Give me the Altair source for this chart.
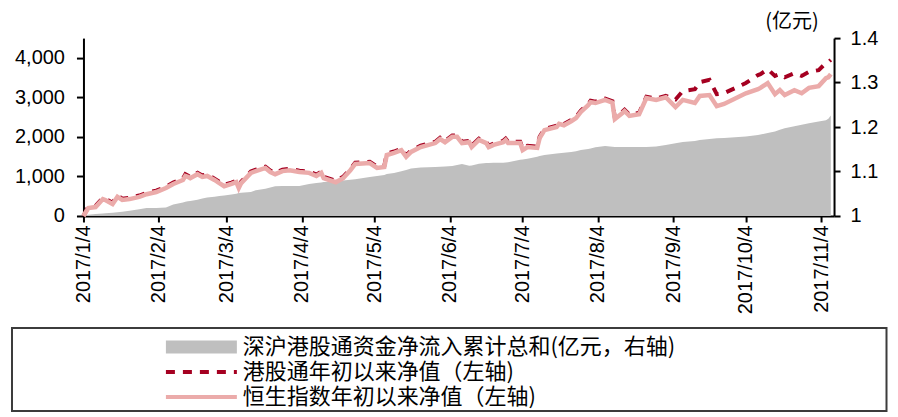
import altair as alt
import pandas as pd

# ---------------- data ----------------
dates = [
    "2017/01/04", "2017/01/06", "2017/01/09", "2017/01/12", "2017/01/13", "2017/01/16",
    "2017/01/18", "2017/01/20", "2017/01/23", "2017/01/27", "2017/01/30", "2017/02/03",
    "2017/02/07", "2017/02/10", "2017/02/14", "2017/02/15", "2017/02/16", "2017/02/17",
    "2017/02/20", "2017/02/22", "2017/02/24", "2017/02/27", "2017/03/01", "2017/03/03",
    "2017/03/06", "2017/03/08", "2017/03/09", "2017/03/10", "2017/03/14", "2017/03/16",
    "2017/03/20", "2017/03/22", "2017/03/24", "2017/03/27", "2017/03/30", "2017/04/03",
    "2017/04/07", "2017/04/10", "2017/04/12", "2017/04/13", "2017/04/18", "2017/04/21",
    "2017/04/24", "2017/04/26", "2017/05/02", "2017/05/05", "2017/05/08", "2017/05/09",
    "2017/05/12", "2017/05/15", "2017/05/17", "2017/05/19", "2017/05/23", "2017/05/29",
    "2017/05/31", "2017/06/02", "2017/06/05", "2017/06/07", "2017/06/09", "2017/06/12",
    "2017/06/13", "2017/06/16", "2017/06/19", "2017/06/20", "2017/06/22", "2017/06/26",
    "2017/06/27", "2017/06/28", "2017/07/03", "2017/07/04", "2017/07/06", "2017/07/10",
    "2017/07/11", "2017/07/13", "2017/07/18", "2017/07/19", "2017/07/21", "2017/07/24",
    "2017/07/26", "2017/07/28", "2017/07/31", "2017/08/01", "2017/08/03", "2017/08/07",
    "2017/08/10", "2017/08/11", "2017/08/14", "2017/08/15", "2017/08/17", "2017/08/21",
    "2017/08/24", "2017/08/28", "2017/09/01", "2017/09/05", "2017/09/08", "2017/09/13",
    "2017/09/15", "2017/09/19", "2017/09/22", "2017/09/25", "2017/10/04", "2017/10/09",
    "2017/10/10", "2017/10/13", "2017/10/16", "2017/10/18", "2017/10/20", "2017/10/24",
    "2017/10/27", "2017/10/30", "2017/11/03", "2017/11/06", "2017/11/07", "2017/11/08",
]

# 恒生指数年初以来净值
hsi = [
    1.000, 1.018, 1.020, 1.038, 1.036, 1.027,
    1.043, 1.036, 1.038, 1.043, 1.049, 1.054,
    1.063, 1.072, 1.081, 1.090, 1.088, 1.085,
    1.094, 1.088, 1.090, 1.081, 1.074, 1.067,
    1.072, 1.076, 1.063, 1.074, 1.097, 1.101,
    1.108, 1.099, 1.094, 1.101, 1.103, 1.099,
    1.097, 1.090, 1.097, 1.085, 1.076, 1.085,
    1.103, 1.117, 1.119, 1.108, 1.110, 1.137,
    1.142, 1.148, 1.133, 1.144, 1.155, 1.164,
    1.173, 1.166, 1.178, 1.178, 1.164, 1.166,
    1.155, 1.171, 1.164, 1.155, 1.160, 1.166,
    1.171, 1.164, 1.164, 1.148, 1.155, 1.153,
    1.175, 1.193, 1.200, 1.207, 1.204, 1.213,
    1.220, 1.234, 1.249, 1.256, 1.254, 1.261,
    1.255, 1.218, 1.231, 1.236, 1.225, 1.229,
    1.265, 1.261, 1.267, 1.245, 1.261, 1.254,
    1.270, 1.272, 1.247, 1.252, 1.276, 1.285,
    1.288, 1.299, 1.274, 1.283, 1.272, 1.283,
    1.276, 1.288, 1.292, 1.310, 1.312, 1.319,
]

# 港股通年初以来净值
hkc = [
    1.000, 1.021, 1.023, 1.041, 1.039, 1.030,
    1.046, 1.039, 1.041, 1.046, 1.052, 1.057,
    1.066, 1.075, 1.084, 1.094, 1.091, 1.088,
    1.097, 1.091, 1.094, 1.084, 1.077, 1.070,
    1.075, 1.079, 1.066, 1.077, 1.100, 1.104,
    1.111, 1.102, 1.097, 1.104, 1.106, 1.102,
    1.100, 1.093, 1.100, 1.088, 1.079, 1.088,
    1.106, 1.120, 1.122, 1.111, 1.113, 1.140,
    1.145, 1.151, 1.136, 1.147, 1.158, 1.167,
    1.176, 1.169, 1.181, 1.181, 1.167, 1.169,
    1.158, 1.174, 1.167, 1.158, 1.163, 1.169,
    1.174, 1.167, 1.167, 1.151, 1.158, 1.156,
    1.178, 1.196, 1.203, 1.210, 1.207, 1.216,
    1.223, 1.237, 1.252, 1.259, 1.257, 1.264,
    1.258, 1.221, 1.234, 1.239, 1.228, 1.232,
    1.268, 1.264, 1.270, 1.262, 1.281, 1.285,
    1.301, 1.306, 1.274, 1.276, 1.299, 1.317,
    1.319, 1.330, 1.315, 1.319, 1.312, 1.321,
    1.315, 1.324, 1.328, 1.344, 1.346, 1.351,
]

# 深沪港股通资金净流入累计总和 (亿元)
flow = [
    10, 30, 50, 65, 70, 80,
    95, 110, 130, 170, 200, 205,
    215, 290, 340, 360, 370, 380,
    410, 440, 470, 490, 505, 520,
    545, 560, 580, 590, 610, 650,
    690, 720, 750, 758, 758, 760,
    810, 834, 845, 858, 870, 900,
    915, 930, 986, 1010, 1040, 1060,
    1087, 1130, 1163, 1200, 1225, 1239,
    1245, 1255, 1265, 1290, 1315, 1270,
    1280, 1320, 1340, 1340, 1345, 1350,
    1355, 1360, 1420, 1430, 1450, 1500,
    1515, 1540, 1580, 1590, 1600, 1620,
    1640, 1670, 1694, 1710, 1740, 1770,
    1750, 1744, 1744, 1744, 1744, 1744,
    1744, 1760, 1795, 1840, 1870, 1900,
    1921, 1950, 1965, 1975, 2010, 2048,
    2060, 2098, 2140, 2180, 2220, 2270,
    2310, 2345, 2390, 2420, 2460, 2540,
]

series_names = [
    "深沪港股通资金净流入累计总和(亿元，右轴)",
    "港股通年初以来净值（左轴)",
    "恒生指数年初以来净值（左轴)",
]
unit_label = "(亿元)"
left_ticks = [0, 1000, 2000, 3000, 4000]
right_ticks = [1.0, 1.1, 1.2, 1.3, 1.4]
tick_months = [1, 2, 3, 4, 5, 6, 7, 8, 9, 10, 11]

# ---------------- styling ----------------
GREY = "#BFBFBF"
DARK_RED = "#A50021"
PINK = "#EBABAA"
NUM_FONT = "Liberation Sans"
CJK_FONT = "Noto Sans CJK SC"

df = pd.DataFrame({"date": dates, "hsi": hsi, "hkc": hkc, "flow": flow})

x_enc = alt.X(
    "date:T",
    scale=alt.Scale(
        domain=[alt.DateTime(year=2017, month=1, date=4),
                alt.DateTime(year=2017, month=11, date=9, hours=8)],
        nice=False,
    ),
    axis=alt.Axis(
        values=[alt.DateTime(year=2017, month=m, date=4) for m in tick_months],
        format="%Y/%-m/%-d",
        labelAngle=270,
        labelFlush=False,
        labelOverlap=False,
        tickSize=6,
        labelPadding=3,
        title=None,
    ),
)

base = alt.Chart(df)

area = base.mark_area(color=GREY, opacity=1).encode(
    x=x_enc,
    y=alt.Y(
        "flow:Q",
        scale=alt.Scale(domain=[0, 4500], nice=False, zero=True),
        axis=alt.Axis(values=left_ticks, format=",.0f", orient="left", title=None,
                      tickSize=7, labelPadding=12),
    ),
)

y_right = alt.Scale(domain=[1.0, 1.4], nice=False, zero=False)

dashed = base.mark_line(color=DARK_RED, strokeWidth=4, strokeDash=[9, 8]).encode(
    x=x_enc,
    y=alt.Y("hkc:Q", scale=y_right,
            axis=alt.Axis(values=right_ticks, format=".1~f", orient="right", title=None,
                          tickSize=6, labelPadding=10)),
)

solid = base.mark_line(color=PINK, strokeWidth=4.5).encode(
    x=x_enc,
    y=alt.Y("hsi:Q", scale=y_right),
)

lines = alt.layer(dashed, solid)

# unit label above right axis
unit = alt.Chart(pd.DataFrame({"t": [unit_label]})).mark_text(
    font=CJK_FONT, fontSize=20, align="center", baseline="middle", color="#000000"
).encode(text="t:N", x=alt.value(709), y=alt.value(-16))

# legend frame and entries
frame = alt.Chart(pd.DataFrame({"k": [0]})).mark_rect(
    fill="white", stroke="#3C3C3C", strokeWidth=2
).encode(x=alt.value(-71.5), x2=alt.value(803.5), y=alt.value(290), y2=alt.value(373))

sw_area = alt.Chart(pd.DataFrame({"k": [0]})).mark_rect(color=GREY).encode(
    x=alt.value(82.5), x2=alt.value(153.5), y=alt.value(302.5), y2=alt.value(315.5)
)
sw_dash = alt.Chart(pd.DataFrame({"k": [0]})).mark_rule(
    color=DARK_RED, strokeWidth=4, strokeDash=[9, 8]
).encode(x=alt.value(82.5), x2=alt.value(153.5), y=alt.value(334))
sw_line = alt.Chart(pd.DataFrame({"k": [0]})).mark_rule(
    color=PINK, strokeWidth=4
).encode(x=alt.value(82.5), x2=alt.value(153.5), y=alt.value(359))

texts = []
for i, name in enumerate(series_names):
    texts.append(
        alt.Chart(pd.DataFrame({"t": [name]})).mark_text(
            font=CJK_FONT, fontSize=22, align="left", baseline="middle", color="#000000"
        ).encode(text="t:N", x=alt.value(159.5), y=alt.value(309 + 25 * i))
    )

chart = (
    alt.layer(area, lines, unit, frame, sw_area, sw_dash, sw_line, *texts)
    .resolve_scale(y="independent")
    .properties(
        width=751,
        height=178,
        padding={"left": 75.5, "top": 30, "right": 56, "bottom": 196},
        autosize=alt.AutoSizeParams(type="none"),
    )
    .configure_view(strokeWidth=0)
    .configure_axis(
        domainColor="#000000",
        tickColor="#000000",
        labelColor="#000000",
        labelFont=NUM_FONT,
        labelFontSize=20,
        domainWidth=2,
        tickWidth=2,
        grid=False,
    )
)

chart.save("out.html", embed_options={"renderer": "svg", "actions": False})
